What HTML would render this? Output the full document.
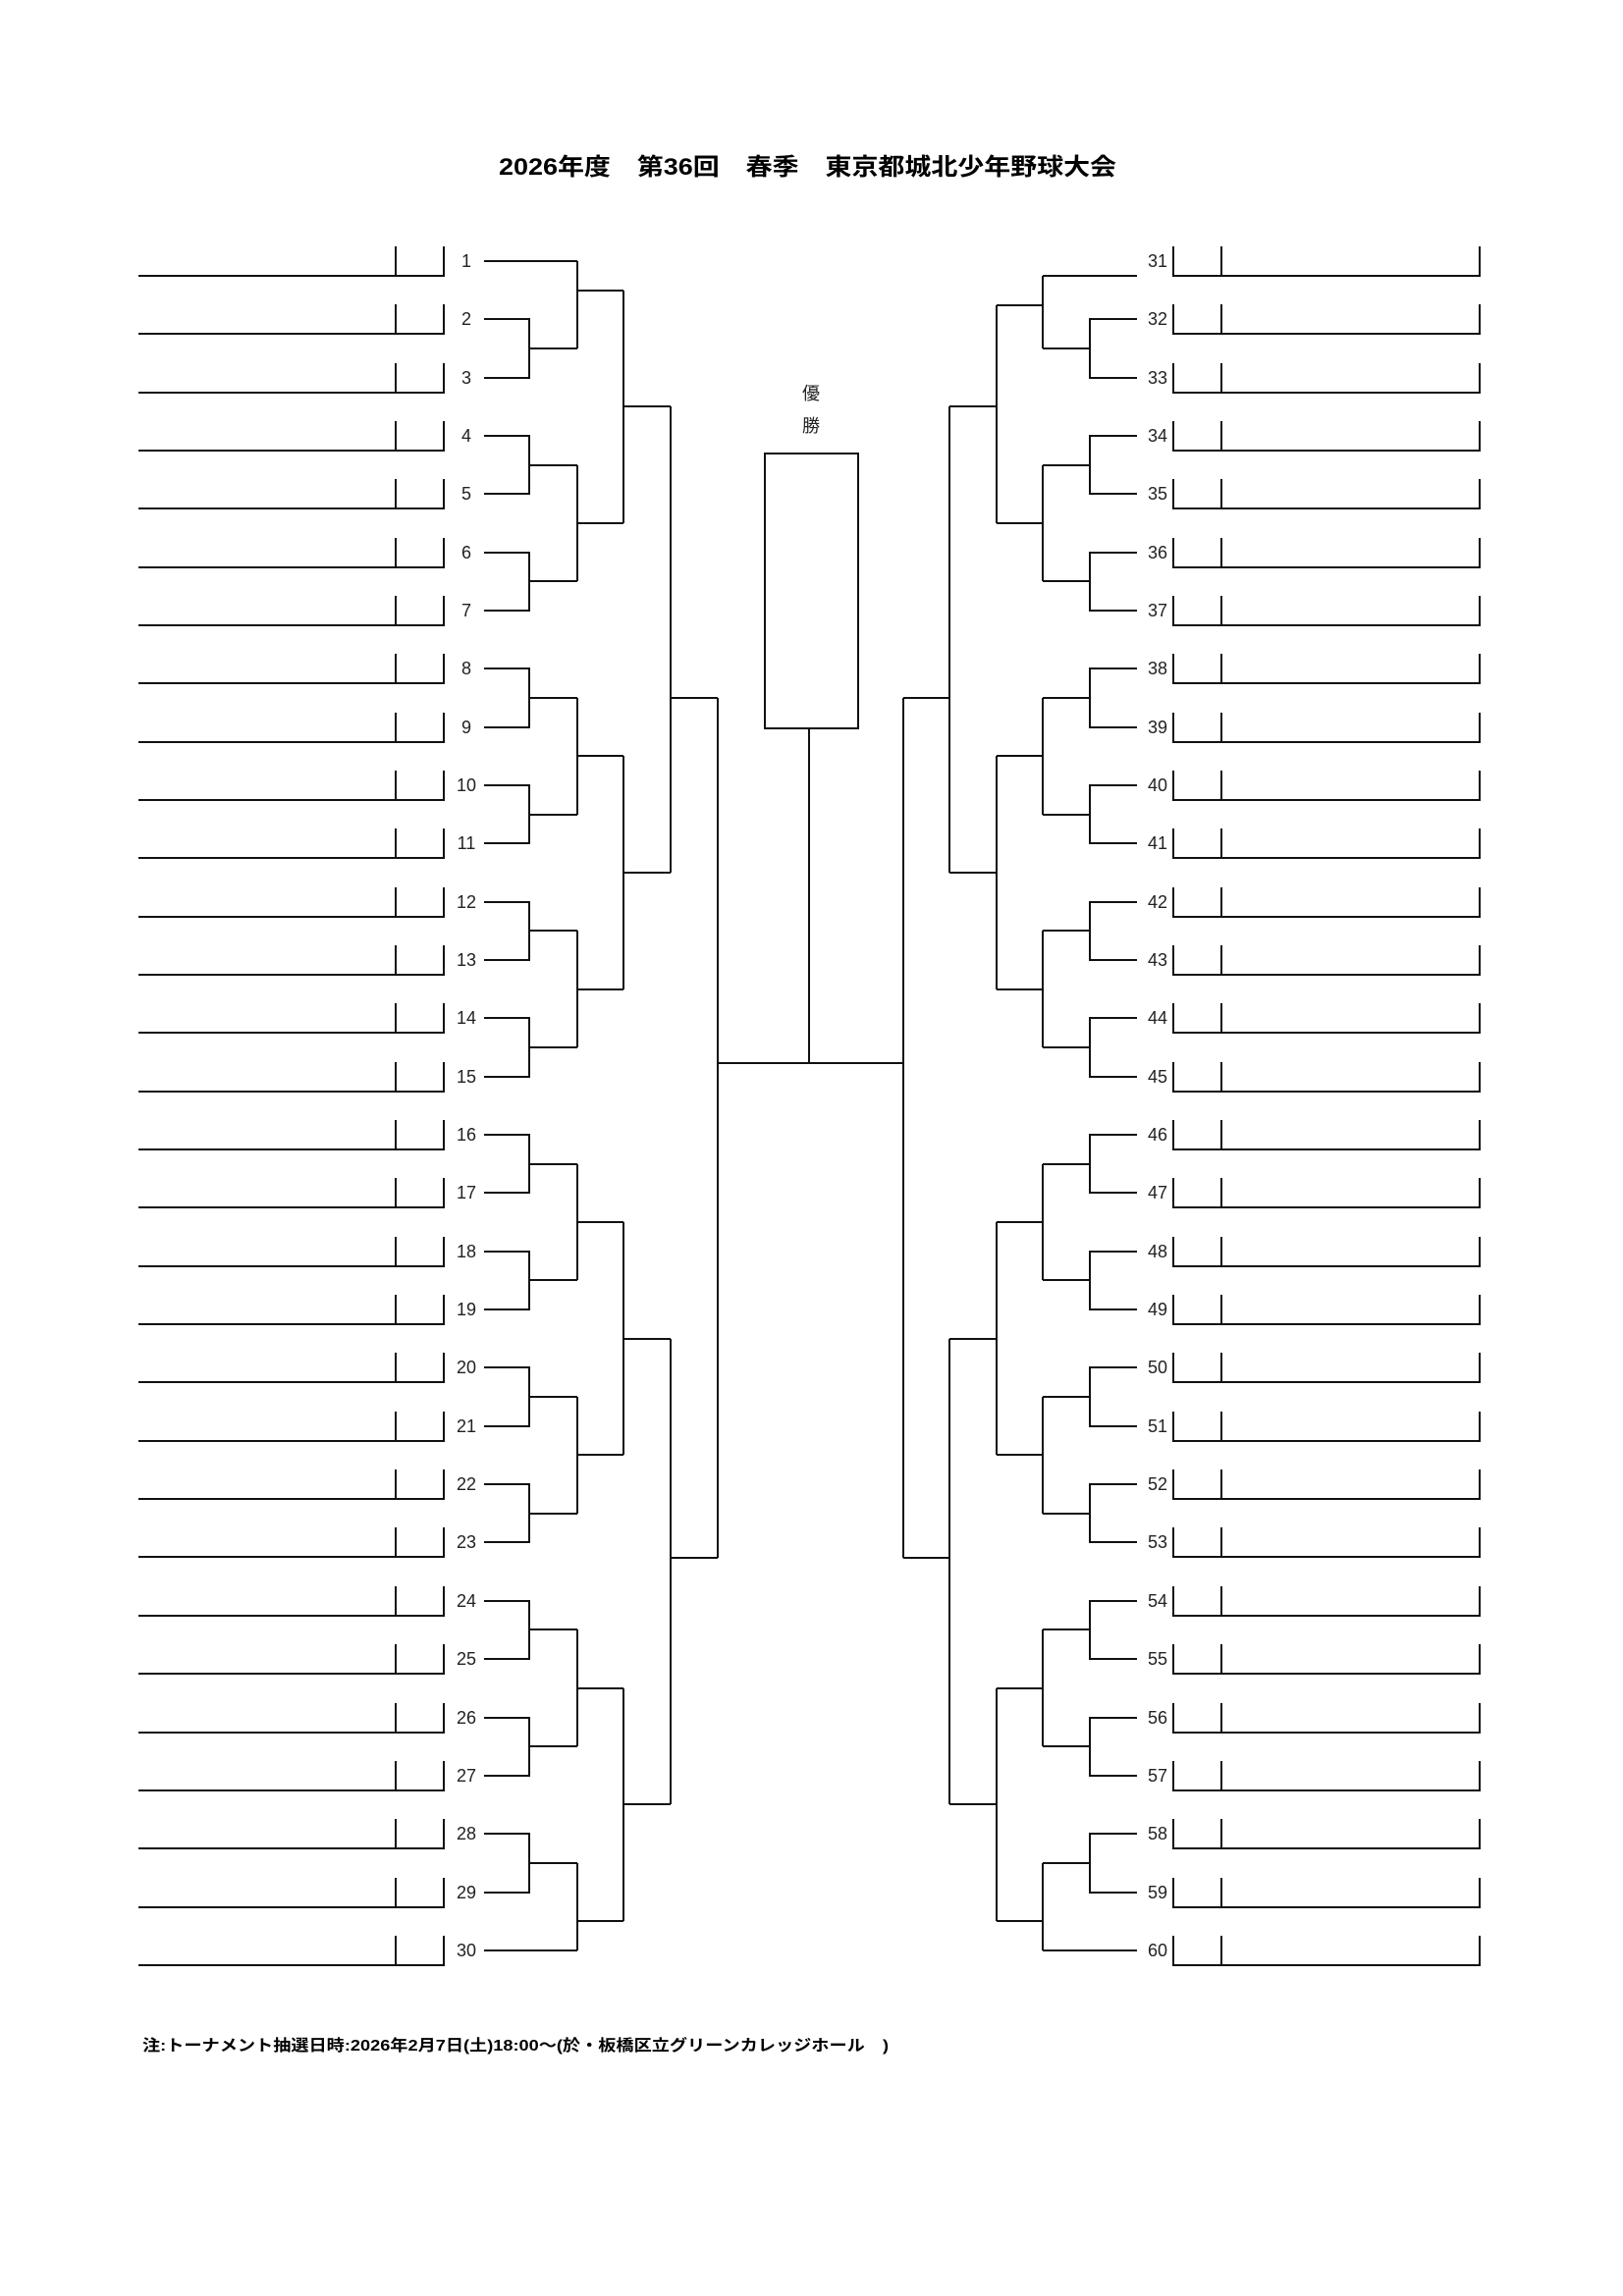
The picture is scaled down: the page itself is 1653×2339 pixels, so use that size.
<!DOCTYPE html>
<html><head><meta charset="utf-8"><style>
html,body{margin:0;padding:0;background:#fff;}
svg{display:block;}
.n{font-family:"Liberation Sans Narrow","Liberation Sans","Noto Sans CJK JP",sans-serif;font-size:18px;fill:#222;}
.t{font-family:"Liberation Sans","Noto Sans CJK JP",sans-serif;font-weight:bold;fill:#000;}
</style></head><body>
<svg width="1653" height="2339" viewBox="0 0 1653 2339" xmlns="http://www.w3.org/2000/svg">
<defs>
<path id="L" d="M141 15H452V-15M403 -15V15" fill="none" stroke="#111" stroke-width="2"/>
<path id="R" d="M1195 -15V15H1507V-15M1244 -15V15" fill="none" stroke="#111" stroke-width="2"/>
</defs>
<text class="t" x="508" y="178" font-size="24" textLength="629" lengthAdjust="spacingAndGlyphs">2026年度　第36回　春季　東京都城北少年野球大会</text>

<g>
<use href="#L" y="266"/><use href="#L" y="325"/><use href="#L" y="385"/><use href="#L" y="444"/><use href="#L" y="503"/><use href="#L" y="563"/><use href="#L" y="622"/><use href="#L" y="681"/><use href="#L" y="741"/><use href="#L" y="800"/><use href="#L" y="859"/><use href="#L" y="919"/><use href="#L" y="978"/><use href="#L" y="1037"/><use href="#L" y="1097"/><use href="#L" y="1156"/><use href="#L" y="1215"/><use href="#L" y="1275"/><use href="#L" y="1334"/><use href="#L" y="1393"/><use href="#L" y="1453"/><use href="#L" y="1512"/><use href="#L" y="1571"/><use href="#L" y="1631"/><use href="#L" y="1690"/><use href="#L" y="1750"/><use href="#L" y="1809"/><use href="#L" y="1868"/><use href="#L" y="1928"/><use href="#L" y="1987"/>
<use href="#R" y="266"/><use href="#R" y="325"/><use href="#R" y="385"/><use href="#R" y="444"/><use href="#R" y="503"/><use href="#R" y="563"/><use href="#R" y="622"/><use href="#R" y="681"/><use href="#R" y="741"/><use href="#R" y="800"/><use href="#R" y="859"/><use href="#R" y="919"/><use href="#R" y="978"/><use href="#R" y="1037"/><use href="#R" y="1097"/><use href="#R" y="1156"/><use href="#R" y="1215"/><use href="#R" y="1275"/><use href="#R" y="1334"/><use href="#R" y="1393"/><use href="#R" y="1453"/><use href="#R" y="1512"/><use href="#R" y="1571"/><use href="#R" y="1631"/><use href="#R" y="1690"/><use href="#R" y="1750"/><use href="#R" y="1809"/><use href="#R" y="1868"/><use href="#R" y="1928"/><use href="#R" y="1987"/>
</g>

<path fill="none" stroke="#111" stroke-width="2" d="
M493 266H588
M493 325H539V385H493M539 355H588
M493 444H539V503H493M539 474H588
M493 563H539V622H493M539 592H588
M493 681H539V741H493M539 711H588
M493 800H539V859H493M539 830H588
M493 919H539V978H493M539 948H588
M493 1037H539V1097H493M539 1067H588
M493 1156H539V1215H493M539 1186H588
M493 1275H539V1334H493M539 1304H588
M493 1393H539V1453H493M539 1423H588
M493 1512H539V1571H493M539 1542H588
M493 1631H539V1690H493M539 1660H588
M493 1750H539V1809H493M539 1779H588
M493 1868H539V1928H493M539 1898H588
M493 1987H588
M588 266V355M588 296H635
M588 474V592M588 533H635
M588 711V830M588 770H635
M588 948V1067M588 1008H635
M588 1186V1304M588 1245H635
M588 1423V1542M588 1482H635
M588 1660V1779M588 1720H635
M588 1898V1987M588 1957H635
M635 296V533M635 414H683
M635 770V1008M635 889H683
M635 1245V1482M635 1364H683
M635 1720V1957M635 1838H683
M683 414V889M683 711H731
M683 1364V1838M683 1587H731
M731 711V1587M731 1083H920
M824 742V1083
M1158 281H1062
M1158 325H1110V385H1158M1110 355H1062
M1158 444H1110V503H1158M1110 474H1062
M1158 563H1110V622H1158M1110 592H1062
M1158 681H1110V741H1158M1110 711H1062
M1158 800H1110V859H1158M1110 830H1062
M1158 919H1110V978H1158M1110 948H1062
M1158 1037H1110V1097H1158M1110 1067H1062
M1158 1156H1110V1215H1158M1110 1186H1062
M1158 1275H1110V1334H1158M1110 1304H1062
M1158 1393H1110V1453H1158M1110 1423H1062
M1158 1512H1110V1571H1158M1110 1542H1062
M1158 1631H1110V1690H1158M1110 1660H1062
M1158 1750H1110V1809H1158M1110 1779H1062
M1158 1868H1110V1928H1158M1110 1898H1062
M1158 1987H1062
M1062 281V355M1062 311H1015
M1062 474V592M1062 533H1015
M1062 711V830M1062 770H1015
M1062 948V1067M1062 1008H1015
M1062 1186V1304M1062 1245H1015
M1062 1423V1542M1062 1482H1015
M1062 1660V1779M1062 1720H1015
M1062 1898V1987M1062 1957H1015
M1015 311V533M1015 414H967
M1015 770V1008M1015 889H967
M1015 1245V1482M1015 1364H967
M1015 1720V1957M1015 1838H967
M967 414V889M967 711H920
M967 1364V1838M967 1587H920
M920 711V1587
"/>
<rect x="779" y="462" width="95" height="280" fill="none" stroke="#111" stroke-width="2"/>
<text class="n" x="826" y="407" text-anchor="middle" font-size="17" style="font-family:'Noto Sans CJK JP',sans-serif">優</text>
<text class="n" x="826" y="440" text-anchor="middle" font-size="17" style="font-family:'Noto Sans CJK JP',sans-serif">勝</text>

<g class="n" text-anchor="middle" dominant-baseline="central">
<text x="475" y="266">1</text><text x="475" y="325">2</text><text x="475" y="385">3</text><text x="475" y="444">4</text><text x="475" y="503">5</text><text x="475" y="563">6</text><text x="475" y="622">7</text><text x="475" y="681">8</text><text x="475" y="741">9</text><text x="475" y="800">10</text><text x="475" y="859">11</text><text x="475" y="919">12</text><text x="475" y="978">13</text><text x="475" y="1037">14</text><text x="475" y="1097">15</text><text x="475" y="1156">16</text><text x="475" y="1215">17</text><text x="475" y="1275">18</text><text x="475" y="1334">19</text><text x="475" y="1393">20</text><text x="475" y="1453">21</text><text x="475" y="1512">22</text><text x="475" y="1571">23</text><text x="475" y="1631">24</text><text x="475" y="1690">25</text><text x="475" y="1750">26</text><text x="475" y="1809">27</text><text x="475" y="1868">28</text><text x="475" y="1928">29</text><text x="475" y="1987">30</text>
</g>
<g class="n" text-anchor="end" dominant-baseline="central">
<text x="1189" y="266">31</text><text x="1189" y="325">32</text><text x="1189" y="385">33</text><text x="1189" y="444">34</text><text x="1189" y="503">35</text><text x="1189" y="563">36</text><text x="1189" y="622">37</text><text x="1189" y="681">38</text><text x="1189" y="741">39</text><text x="1189" y="800">40</text><text x="1189" y="859">41</text><text x="1189" y="919">42</text><text x="1189" y="978">43</text><text x="1189" y="1037">44</text><text x="1189" y="1097">45</text><text x="1189" y="1156">46</text><text x="1189" y="1215">47</text><text x="1189" y="1275">48</text><text x="1189" y="1334">49</text><text x="1189" y="1393">50</text><text x="1189" y="1453">51</text><text x="1189" y="1512">52</text><text x="1189" y="1571">53</text><text x="1189" y="1631">54</text><text x="1189" y="1690">55</text><text x="1189" y="1750">56</text><text x="1189" y="1809">57</text><text x="1189" y="1868">58</text><text x="1189" y="1928">59</text><text x="1189" y="1987">60</text>
</g>

<text class="t" x="145" y="2089" font-size="16" textLength="760" lengthAdjust="spacingAndGlyphs">注:トーナメント抽選日時:2026年2月7日(土)18:00～(於・板橋区立グリーンカレッジホール　)</text>
</svg>
</body></html>
